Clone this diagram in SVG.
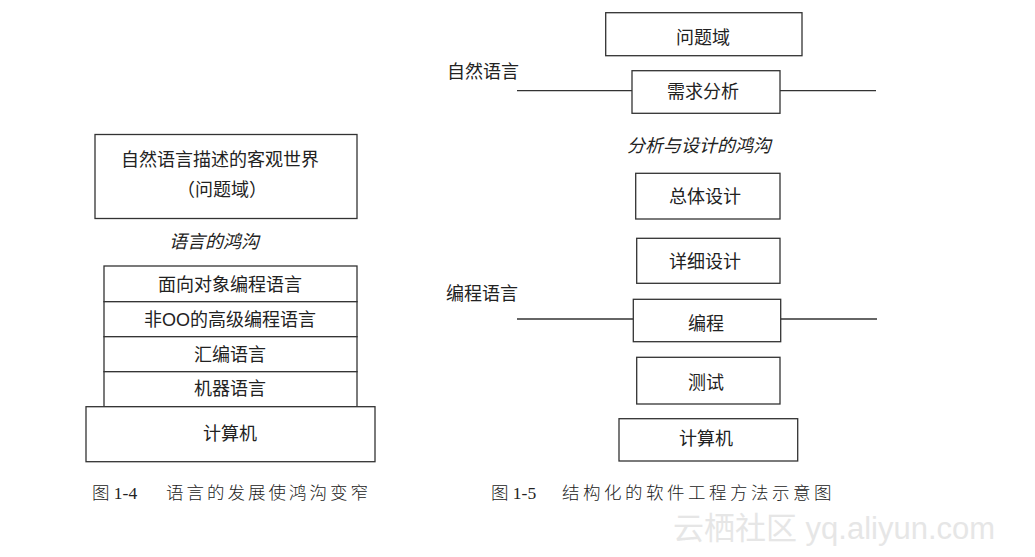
<svg xmlns="http://www.w3.org/2000/svg" width="1035" height="557" viewBox="0 0 1035 557">
<style>
.box{fill:#fff;stroke:#333;stroke-width:1.3}
.t{font-family:"Liberation Sans","Noto Sans CJK SC",sans-serif;font-size:18px;fill:#222;text-anchor:middle}
.l{font-family:"Liberation Sans","Noto Sans CJK SC",sans-serif;font-size:18px;fill:#222}
.i{font-family:"Liberation Sans","Noto Sans CJK SC",sans-serif;font-size:18px;fill:#222;text-anchor:middle;font-style:italic}
.cap{font-family:"Liberation Serif","Noto Sans CJK SC",serif;font-size:17.5px;fill:#222;font-weight:300}
.line{stroke:#333;stroke-width:1.3;fill:none}
</style>
<rect width="1035" height="557" fill="#fff"/>
<!-- Figure 1-4 -->
<g id="world">
<rect class="box" x="95" y="134.5" width="262" height="84"/>
<text class="t" x="220" y="166">自然语言描述的客观世界</text>
<text class="t" x="222" y="196">（问题域）</text>
</g>
<text class="i" x="214" y="248">语言的鸿沟</text>
<g id="oo">
<rect class="box" x="104" y="266" width="253" height="35.7"/>
<text class="t" x="230" y="290.5">面向对象编程语言</text>
</g>
<g id="nonoo">
<rect class="box" x="104" y="301.7" width="253" height="35"/>
<text class="t" x="230" y="325.5">非OO的高级编程语言</text>
</g>
<g id="asm">
<rect class="box" x="104" y="336.7" width="253" height="35"/>
<text class="t" x="230" y="360.5">汇编语言</text>
</g>
<g id="machine">
<rect class="box" x="104" y="371.7" width="253" height="35"/>
<text class="t" x="230" y="394.5">机器语言</text>
</g>
<g id="computer1">
<rect class="box" x="86" y="406.7" width="289" height="55"/>
<text class="t" x="230" y="439.5">计算机</text>
</g>
<text class="cap" x="92" y="499">图 1-4<tspan x="166" letter-spacing="3">语言的发展使鸿沟变窄</tspan></text>
<!-- Figure 1-5 -->
<g id="connectors">
<line class="line" x1="517" y1="90.7" x2="632" y2="90.7"/>
<line class="line" x1="780" y1="90.7" x2="876" y2="90.7"/>
<line class="line" x1="517" y1="319" x2="633" y2="319"/>
<line class="line" x1="781" y1="319" x2="877" y2="319"/>
</g>
<text class="l" x="447" y="77.5">自然语言</text>
<text class="l" x="446" y="300">编程语言</text>
<g id="problem">
<rect class="box" x="605.7" y="12.7" width="196.3" height="43"/>
<text class="t" x="703" y="43.5">问题域</text>
</g>
<g id="req">
<rect class="box" x="632" y="70.7" width="148" height="42.6"/>
<text class="t" x="703" y="97.5">需求分析</text>
</g>
<text class="i" x="699" y="152">分析与设计的鸿沟</text>
<g id="overall">
<rect class="box" x="635.7" y="173.3" width="144.3" height="45.7"/>
<text class="t" x="705" y="203">总体设计</text>
</g>
<g id="detail">
<rect class="box" x="636.7" y="238.3" width="143.3" height="45"/>
<text class="t" x="705" y="267.5">详细设计</text>
</g>
<g id="coding">
<rect class="box" x="633.3" y="299.3" width="147.4" height="42.4"/>
<text class="t" x="706" y="329.5">编程</text>
</g>
<g id="test">
<rect class="box" x="636.7" y="357.3" width="143.3" height="46.7"/>
<text class="t" x="706" y="388.5">测试</text>
</g>
<g id="computer2">
<rect class="box" x="619" y="418.7" width="178.7" height="42.3"/>
<text class="t" x="706" y="444.5">计算机</text>
</g>
<text class="cap" x="491" y="499">图 1-5<tspan x="562" letter-spacing="3.5">结构化的软件工程方法示意图</tspan></text>
<text x="673" y="539" style="font-family:'Liberation Sans','Noto Sans CJK SC',sans-serif;font-size:31px;fill:#e6e6e6">云栖社区 yq.aliyun.com</text>
</svg>
